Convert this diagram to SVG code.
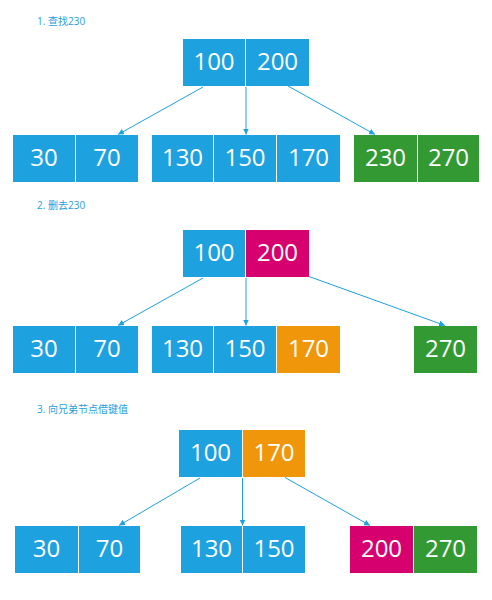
<svg xmlns="http://www.w3.org/2000/svg" width="492" height="600" viewBox="0 0 492 600">
  <style>
    .blue { fill: #1ea1df; }
    .green { fill: #339933; }
    .red { fill: #d6006f; }
    .orange { fill: #f0960a; }
    .num { font-family: "Open Sans", "Noto Sans", sans-serif; font-size: 24px; fill: #ffffff; text-anchor: middle; }
    .title { font-family: "Open Sans", "Noto Sans CJK SC", sans-serif; font-size: 10px; fill: #1ea1df; }
    .edge { stroke: #1ea1df; stroke-width: 1; fill: none; marker-end: url(#arrow); }
  </style>
  <defs>
    <marker id="arrow" viewBox="0 0 10 10" refX="10" refY="5" markerWidth="6" markerHeight="6" markerUnits="userSpaceOnUse" orient="auto">
      <path d="M0,0 L10,5 L0,10 z" fill="#1ea1df"/>
    </marker>
  </defs>

  <rect width="492" height="600" fill="#ffffff"/>

  <!-- Step 1: search -->
  <text class="title" x="37" y="25">1. 查找230</text>

  <g id="s1-root">
    <rect class="blue" x="183" y="39" width="62" height="47"/>
    <rect class="blue" x="246" y="39" width="63" height="47"/>
    <text class="num" x="214" y="70">100</text>
    <text class="num" x="277.5" y="70">200</text>
  </g>
  <g id="s1-leaf1">
    <rect class="blue" x="13" y="135" width="62" height="47"/>
    <rect class="blue" x="76" y="135" width="62" height="47"/>
    <text class="num" x="44" y="166">30</text>
    <text class="num" x="107" y="166">70</text>
  </g>
  <g id="s1-leaf2">
    <rect class="blue" x="152" y="135" width="61" height="47"/>
    <rect class="blue" x="214" y="135" width="62" height="47"/>
    <rect class="blue" x="277" y="135" width="63" height="47"/>
    <text class="num" x="182.5" y="166">130</text>
    <text class="num" x="245" y="166">150</text>
    <text class="num" x="308.5" y="166">170</text>
  </g>
  <g id="s1-leaf3">
    <rect class="green" x="354" y="135" width="63" height="47"/>
    <rect class="green" x="418" y="135" width="61" height="47"/>
    <text class="num" x="385.5" y="166">230</text>
    <text class="num" x="448.5" y="166">270</text>
  </g>

  <!-- Step 2: delete -->
  <text class="title" x="37" y="209">2. 删去230</text>

  <g id="s2-root">
    <rect class="blue" x="183" y="230" width="62" height="47"/>
    <rect class="red" x="246" y="230" width="63" height="47"/>
    <text class="num" x="214" y="261">100</text>
    <text class="num" x="277.5" y="261">200</text>
  </g>
  <g id="s2-leaf1">
    <rect class="blue" x="13" y="326" width="62" height="47"/>
    <rect class="blue" x="76" y="326" width="62" height="47"/>
    <text class="num" x="44" y="357">30</text>
    <text class="num" x="107" y="357">70</text>
  </g>
  <g id="s2-leaf2">
    <rect class="blue" x="152" y="326" width="61" height="47"/>
    <rect class="blue" x="214" y="326" width="62" height="47"/>
    <rect class="orange" x="277" y="326" width="63" height="47"/>
    <text class="num" x="182.5" y="357">130</text>
    <text class="num" x="245" y="357">150</text>
    <text class="num" x="308.5" y="357">170</text>
  </g>
  <g id="s2-leaf3">
    <rect class="green" x="414" y="326" width="63" height="47"/>
    <text class="num" x="445.5" y="357">270</text>
  </g>

  <!-- Step 3: borrow from sibling -->
  <text class="title" x="37" y="413">3. 向兄弟节点借键值</text>

  <g id="s3-root">
    <rect class="blue" x="179" y="430" width="63" height="47"/>
    <rect class="orange" x="243" y="430" width="62" height="47"/>
    <text class="num" x="210.5" y="461">100</text>
    <text class="num" x="274" y="461">170</text>
  </g>
  <g id="s3-leaf1">
    <rect class="blue" x="15" y="526" width="63" height="47"/>
    <rect class="blue" x="79" y="526" width="61" height="47"/>
    <text class="num" x="46.5" y="557">30</text>
    <text class="num" x="109.5" y="557">70</text>
  </g>
  <g id="s3-leaf2">
    <rect class="blue" x="181" y="526" width="61" height="47"/>
    <rect class="blue" x="243" y="526" width="62" height="47"/>
    <text class="num" x="211.5" y="557">130</text>
    <text class="num" x="274" y="557">150</text>
  </g>
  <g id="s3-leaf3">
    <rect class="red" x="350" y="526" width="63" height="47"/>
    <rect class="green" x="414" y="526" width="63" height="47"/>
    <text class="num" x="381.5" y="557">200</text>
    <text class="num" x="445.5" y="557">270</text>
  </g>

  <!-- Child pointers -->
  <g id="connectors">
    <line class="edge" x1="203" y1="87" x2="118" y2="134.5"/>
    <line class="edge" x1="246" y1="87" x2="246" y2="134.5"/>
    <line class="edge" x1="288" y1="86" x2="375" y2="134.5"/>

    <line class="edge" x1="203" y1="278" x2="118" y2="325.5"/>
    <line class="edge" x1="246" y1="278" x2="246" y2="325.5"/>
    <line class="edge" x1="309" y1="276.5" x2="445" y2="325.5"/>

    <line class="edge" x1="200" y1="478" x2="119" y2="525.5"/>
    <line class="edge" x1="242.5" y1="478" x2="242.5" y2="525.5"/>
    <line class="edge" x1="285" y1="477.5" x2="370" y2="525.5"/>
  </g>
</svg>
